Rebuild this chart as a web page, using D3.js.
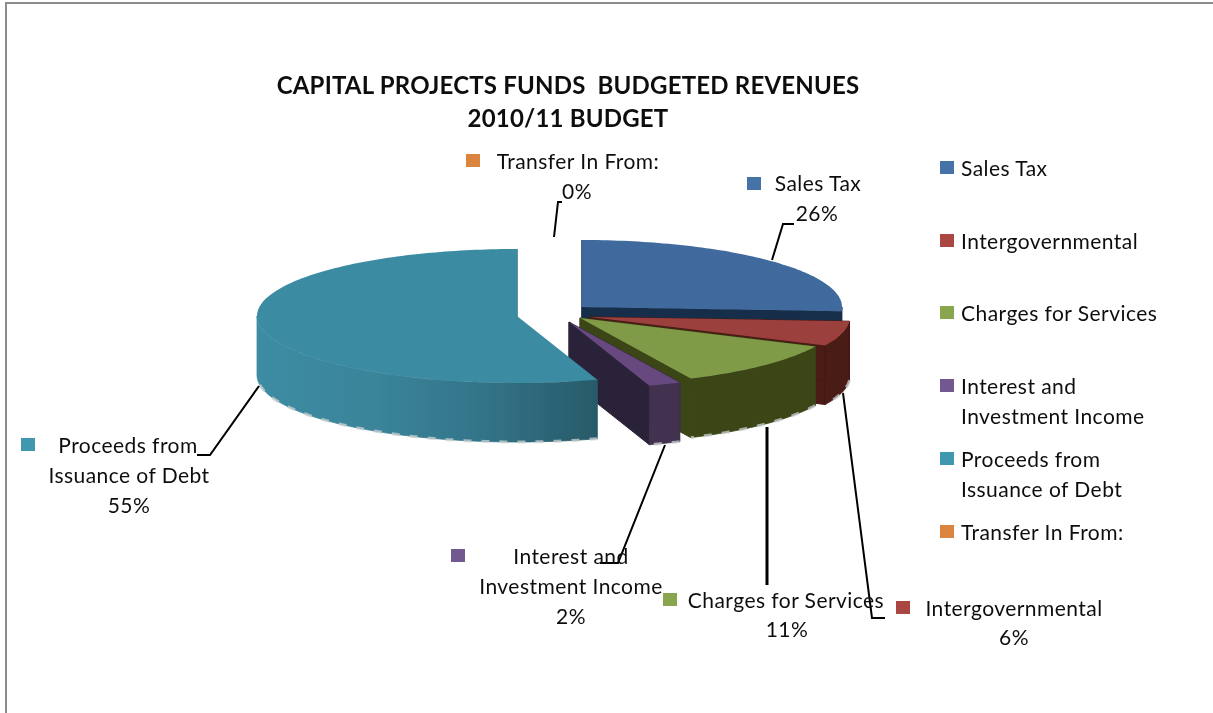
<!DOCTYPE html>
<html><head><meta charset="utf-8">
<script src="https://cdn.jsdelivr.net/npm/d3@7"></script>
<style>html,body{margin:0;padding:0;background:#fff}svg{display:block}text{font-family:Lato,"Open Sans",sans-serif;fill:#111}</style>
</head><body><svg id="c" width="1213" height="713"></svg>
<script>
const categories=["Sales Tax","Intergovernmental","Charges for Services","Interest and Investment Income","Proceeds from Issuance of Debt","Transfer In From:"];
const values=[26,6,11,2,55,0];
const titleLines=["CAPITAL PROJECTS FUNDS  BUDGETED REVENUES","2010/11 BUDGET"];
const legendLines=[["Sales Tax"],["Intergovernmental"],["Charges for Services"],["Interest and","Investment Income"],["Proceeds from","Issuance of Debt"],["Transfer In From:"]];
const swatch=["#4573a7","#aa4643","#89a54e","#71588f","#4198af","#db843d"];
const topFace=["#3f6b9e","#9b3f3c","#7f9b47","#67487f","#3b8ca3","#db843d"];
const wallFace=["#172f4a","#4a1a16","#3a4519","#43304f","url(#tealWall)","#db843d"];
const cutFace=["#172f4a","#4a1a16","#3a4519","#2c2338","#2f7083","#db843d"];
const apex=[[582,307],[590,317],[580,318],[569,322],[517,316],[517,316]];
const labelSpec=[
 {lines:["Sales Tax","26%"],x:[818,817],y:[191,221],mark:[747,177]},
 {lines:["Intergovernmental","6%"],x:[1014,1014],y:[616,645],mark:[896,601]},
 {lines:["Charges for Services","11%"],x:[786,787],y:[608,637],mark:[663,593]},
 {lines:["Interest and","Investment Income","2%"],x:[571,571,571],y:[564,594,624],mark:[451,549]},
 {lines:["Proceeds from","Issuance of Debt","55%"],x:[128,129,129],y:[453,483,513],mark:[21,438]},
 {lines:["Transfer In From:","0%"],x:[578,577],y:[169,199],mark:[466,154]}
];
const leaders=[
 [[772,260],[783,224],[794,224]],
 [[843,393],[872,618],[885,618]],
 [[767,427],[767,585]],
 [[665,445],[618,563],[600,563]],
 [[259,386],[210,455],[197,455]],
 [[554,237],[558,202],[562,202]]
];
const RX=260,RY=67,DEPTH=59;
const svg=d3.select("#c");
const defs=svg.append("defs");
const g=defs.append("linearGradient").attr("id","tealWall").attr("gradientUnits","userSpaceOnUse").attr("x1",257).attr("x2",597).attr("y1",0).attr("y2",0);
[[0,"#3c8ca3"],[0.35,"#3a8499"],[0.65,"#33758a"],[1,"#285a68"]].forEach(s=>g.append("stop").attr("offset",s[0]).attr("stop-color",s[1]));
defs.append("filter").attr("id","soft").append("feGaussianBlur").attr("stdDeviation",0.7);
defs.append("filter").attr("id","softT").append("feGaussianBlur").attr("stdDeviation",0.3);
svg.append("path").attr("d",d3.line()([[6,713],[6,3],[1213,3]])).attr("fill","none").attr("stroke","#8c8c8c").attr("stroke-width",2);
const arcs=d3.pie().sort(null).value(d=>d).startAngle(0).endAngle(2*Math.PI)(values);
const line=d3.line();
function pt(i,a,dz){return [apex[i][0]+RX*Math.sin(a),apex[i][1]-RY*Math.cos(a)+(dz||0)];}
function samples(a0,a1){const n=Math.max(2,Math.ceil((a1-a0)/0.02));return d3.range(n+1).map(k=>a0+(a1-a0)*k/n);}
const pie=svg.append("g").attr("filter","url(#soft)");
function draw(i){
 const d=arcs[i],a0=d.startAngle,a1=d.endAngle;
 if(a1<=a0)return;
 const c=apex[i];
 const s=pie.append("g");
 s.append("path").attr("d",line([c,pt(i,a1),pt(i,a1,DEPTH),[c[0],c[1]+DEPTH]])+"Z").attr("fill",cutFace[i]).attr("stroke",cutFace[i]);
 if(i<4)s.append("path").attr("d",line([c,pt(i,a0),pt(i,a0,DEPTH),[c[0],c[1]+DEPTH]])+"Z").attr("fill",cutFace[i]).attr("stroke",cutFace[i]);
 const lo=Math.max(a0,Math.PI/2),hi=Math.min(a1,3*Math.PI/2);
 if(hi>lo){
  const ss=samples(lo,hi);
  s.append("path").attr("d",line(ss.map(a=>pt(i,a)).concat(ss.slice().reverse().map(a=>pt(i,a,DEPTH))))+"Z").attr("fill",wallFace[i]).attr("stroke",wallFace[i]).attr("stroke-width",.8);
  s.append("path").attr("d",line(ss.map(a=>pt(i,a,DEPTH)))).attr("fill","none").attr("stroke","#c8d0d2").attr("stroke-width",3).attr("stroke-dasharray","8 10").attr("opacity",.75);
 }
 s.append("path").attr("d",line([c].concat(samples(a0,a1).map(a=>pt(i,a))))+"Z").attr("fill",topFace[i]);
}
[0,1,2,3,4].forEach(draw);
const lg=svg.append("g");
leaders.forEach((l,i)=>lg.append("path").attr("d",line(l)).attr("fill","none").attr("stroke","#000").attr("stroke-width",i==2?3:2));
const tg=svg.append("g").attr("filter","url(#softT)");
titleLines.forEach((t,i)=>tg.append("text").attr("x",568).attr("y",94+i*33).attr("text-anchor","middle").attr("font-size",24).attr("font-weight",700).attr("letter-spacing",0.2).style("white-space","pre").text(t));
labelSpec.forEach((l,i)=>{
 tg.append("rect").attr("x",l.mark[0]).attr("y",l.mark[1]).attr("width",14).attr("height",13).attr("fill",swatch[i]);
 l.lines.forEach((t,j)=>tg.append("text").attr("x",l.x[j]).attr("y",l.y[j]).attr("text-anchor","middle").attr("font-size",21).attr("letter-spacing",0.45).text(t));
});
const rowY=[176,249,321,394,467,540];
const rowLine=29.5;
legendLines.forEach((ls,i)=>{
 tg.append("rect").attr("x",940).attr("y",rowY[i]-15).attr("width",14).attr("height",13).attr("fill",swatch[i]);
 ls.forEach((t,j)=>tg.append("text").attr("x",961).attr("y",rowY[i]+j*rowLine).attr("font-size",21).attr("letter-spacing",0.45).text(t));
});
</script></body></html>
